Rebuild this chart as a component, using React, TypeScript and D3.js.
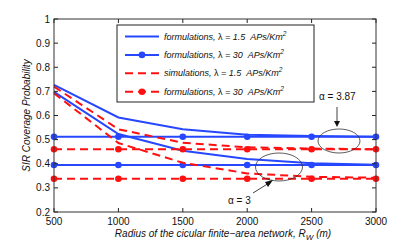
import React from 'react'
import * as d3 from 'd3'

// radius of the finite-area network (m)
const radius = [500, 1000, 1500, 2000, 2500, 3000]

// lambda = 1.5, formulations (alpha = 3.87 and alpha = 3)
const formLow387 = [0.727, 0.592, 0.543, 0.52, 0.515, 0.512]
const formLow3 = [0.698, 0.523, 0.454, 0.42, 0.402, 0.396]
// lambda = 30, formulations
const formHigh387 = [0.512, 0.512, 0.512, 0.512, 0.512, 0.512]
const formHigh3 = [0.395, 0.395, 0.395, 0.395, 0.395, 0.395]
// lambda = 1.5, simulations
const simLow387 = [0.72, 0.543, 0.487, 0.468, 0.463, 0.46]
const simLow3 = [0.692, 0.486, 0.404, 0.36, 0.346, 0.342]
// lambda = 30, formulations (red)
const formHighRed387 = [0.46, 0.46, 0.46, 0.46, 0.46, 0.46]
const formHighRed3 = [0.338, 0.338, 0.338, 0.338, 0.338, 0.338]

const xTicks = [500, 1000, 1500, 2000, 2500, 3000]
const yTicks = [0.2, 0.3, 0.4, 0.5, 0.6, 0.7, 0.8, 0.9, 1]

const legendLabels = [
  { name: 'formulations', lam: '1.5' },
  { name: 'formulations', lam: '30' },
  { name: 'simulations', lam: '1.5' },
  { name: 'formulations', lam: '30' },
]

const BLUE = '#2747ff'
const RED = '#ff1010'
const DASH = '8,5'

export default function App() {
  const margin = { top: 19, right: 39, bottom: 34, left: 54 }
  const W = 415, H = 246
  const width = W - margin.left - margin.right
  const height = H - margin.top - margin.bottom

  const x = d3.scaleLinear().domain([500, 3000]).range([0, width])
  const y = d3.scaleLinear().domain([0.2, 1]).range([height, 0])
  const line = d3.line<number>().x((d, i) => x(radius[i])).y(d => y(d))

  const series = [
    { data: formLow387, color: BLUE, dash: null, marker: false },
    { data: formLow3, color: BLUE, dash: null, marker: false },
    { data: formHigh387, color: BLUE, dash: null, marker: true },
    { data: formHigh3, color: BLUE, dash: null, marker: true },
    { data: simLow387, color: RED, dash: DASH, marker: false },
    { data: simLow3, color: RED, dash: DASH, marker: false },
    { data: formHighRed387, color: RED, dash: DASH, marker: true },
    { data: formHighRed3, color: RED, dash: DASH, marker: true },
  ]
  const legendStyle = [
    { color: BLUE, dash: null, marker: false },
    { color: BLUE, dash: null, marker: true },
    { color: RED, dash: DASH, marker: false },
    { color: RED, dash: DASH, marker: true },
  ]

  const font = '"Liberation Sans", Arial, sans-serif'
  const tick = 4

  return (
    <svg width={W} height={H} style={{ position: 'absolute', left: 0, top: 0, background: '#fff' }}
      fontFamily={font}>
      <g transform={`translate(${margin.left},${margin.top})`}>
        <rect width={width} height={height} fill="#fff" />
        {/* series */}
        {series.map((s, i) => (
          <g key={i}>
            <path d={line(s.data) || ''} fill="none" stroke={s.color} strokeWidth={2}
              strokeDasharray={s.dash || undefined} />
            {s.marker && s.data.map((v, j) => (
              <circle key={j} cx={x(radius[j])} cy={y(v)} r={3.3} fill={s.color} />
            ))}
          </g>
        ))}
        {/* ticks inside, all four sides */}
        {xTicks.map(t => (
          <g key={t}>
            <line x1={x(t)} x2={x(t)} y1={height} y2={height - tick} stroke="#222" />
            <line x1={x(t)} x2={x(t)} y1={0} y2={tick} stroke="#222" />
            <text x={x(t)} y={height + 13} fontSize={10} textAnchor="middle" fill="#111">{t}</text>
          </g>
        ))}
        {yTicks.map(t => (
          <g key={t}>
            <line x1={0} x2={tick} y1={y(t)} y2={y(t)} stroke="#222" />
            <line x1={width} x2={width - tick} y1={y(t)} y2={y(t)} stroke="#222" />
            <text x={-4} y={y(t) + 3.5} fontSize={10} textAnchor="end" fill="#111">{t === 1 ? '1' : t.toFixed(1)}</text>
          </g>
        ))}
        <rect width={width} height={height} fill="none" stroke="#333" strokeWidth={1} />
        {/* legend */}
        <g transform="translate(63,6)">
          <rect width={197} height={77} fill="#fff" stroke="#222" />
          {legendLabels.map((l, i) => {
            const st = legendStyle[i]
            const ly = 11.5 + i * 18.4
            return (
              <g key={i} transform={`translate(0,${ly})`}>
                <line x1={8} x2={42} y1={0} y2={0} stroke={st.color} strokeWidth={2}
                  strokeDasharray={st.dash || undefined} />
                {st.marker && <circle cx={25} cy={0} r={3.3} fill={st.color} />}
                <text x={47} y={3} fontSize={9} fontStyle="italic" fill="#111">
                  {l.name}, <tspan fontStyle="normal">λ</tspan> = {l.lam}{'\u00a0\u00a0'}APs/Km
                  <tspan dy={-4} fontSize={6.5}>2</tspan>
                </text>
              </g>
            )
          })}
        </g>
        {/* annotations */}
        <ellipse cx={285} cy={122} rx={21} ry={12} fill="none" stroke="#333" strokeWidth={0.8} />
        <text x={265} y={81} fontSize={10} fill="#111">α = 3.87</text>
        <line x1={283} x2={283} y1={88} y2={106} stroke="#111" strokeWidth={0.8} />
        <path d="M280,102 L283,108 L286,102 Z" fill="#111" />
        <ellipse cx={225} cy={148} rx={23.5} ry={14} fill="none" stroke="#333" strokeWidth={0.8} />
        <text x={174} y={185} fontSize={10} fill="#111">α = 3</text>
        <line x1={199} x2={215} y1={174} y2={164} stroke="#111" strokeWidth={0.8} />
        <path d="M219,161 L211,163 L214,168 Z" fill="#111" />
        {/* axis labels */}
        <text x={width / 2 + 8} y={height + 25} fontSize={10} fontStyle="italic" textAnchor="middle" fill="#111">
          Radius of the cicular finite−area network, R<tspan dy={3} fontSize={8}>W</tspan><tspan dy={-3}> (m)</tspan>
        </text>
        <text transform={`translate(-24,${height / 2}) rotate(-90)`} fontSize={10} fontStyle="italic"
          textAnchor="middle" fill="#111">SIR Coverage Probability</text>
      </g>
    </svg>
  )
}
